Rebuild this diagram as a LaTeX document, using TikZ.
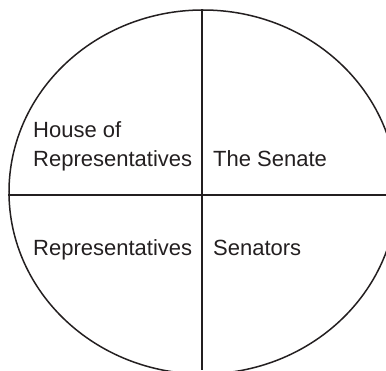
\documentclass[tikz,border=0pt]{standalone}
\usepackage{fontspec}
\setmainfont{Liberation Sans}
\usetikzlibrary{shapes.geometric}
\definecolor{ink}{HTML}{231f20}

\begin{document}
\begin{tikzpicture}[x=1pt, y=1pt, font=\fontsize{22}{29}\selectfont,
  part/.style={anchor=base west, inner sep=0pt, align=left, text=ink},
  divider/.style={draw=ink, line width=1.5pt}]
  \useasboundingbox (0,0) rectangle (386,370);
  \clip (0,0) rectangle (386,370);

  \node[ellipse, divider, minimum width=388pt, minimum height=364pt, inner sep=0pt] (chamber) at (203,178) {};
  \coordinate (floor) at (202,0);
  \coordinate (rim) at (386,175);
  \draw[divider] (chamber.north -| floor) -- (floor);
  \draw[divider] (chamber.west |- rim) -- (rim);

  \node[part] (house) at (33,203) {House of\\Representatives};
  \node[part] (senate) at (213,203) {The Senate};
  \node[part] (reps) at (33,114) {Representatives};
  \node[part] (senators) at (213,114) {Senators};
\end{tikzpicture}
\end{document}
